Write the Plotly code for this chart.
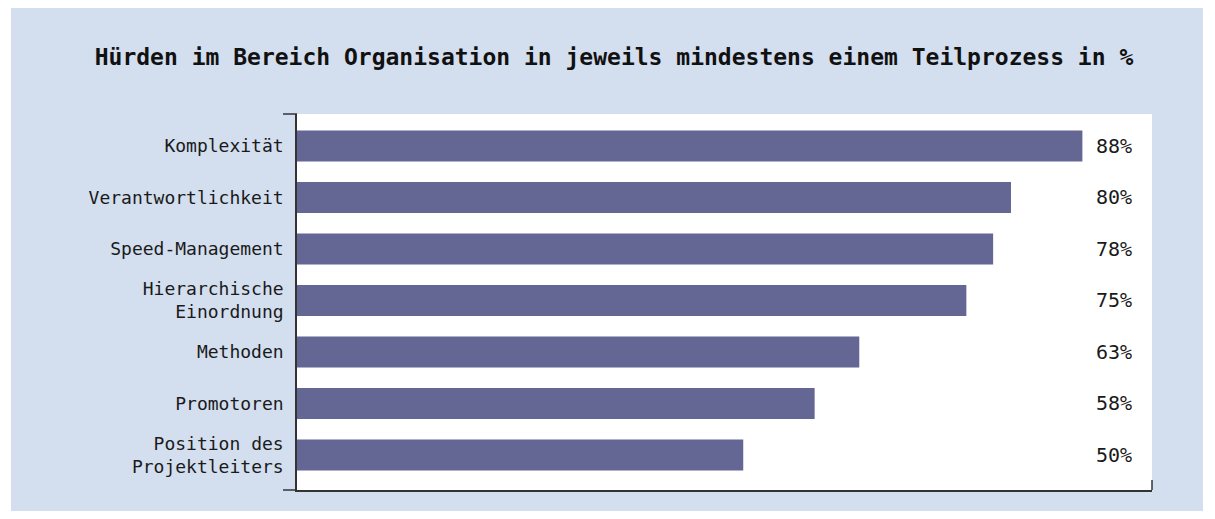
import plotly.graph_objects as go

categories = ["Komplexität", "Verantwortlichkeit", "Speed-Management",
              "Hierarchische<br>Einordnung", "Methoden", "Promotoren",
              "Position des<br>Projektleiters"]
values = [88, 80, 78, 75, 63, 58, 50]
value_labels = [f"{v}%" for v in values]

W, H = 1215, 519
L, R, T, B = 297, 1152, 114, 490
pw, ph = R - L, B - T

def px_x(x):
    return (x - L) / pw

def px_y(y):
    return (B - y) / ph

font_family = "DejaVu Sans Mono"
panel = "#d3deef"
bar_color = "#646694"
axis_color = "#333333"

fig = go.Figure(go.Bar(
    x=values, y=categories, orientation="h",
    marker=dict(color=bar_color, line=dict(width=0)),
    hoverinfo="skip",
))

shapes = [
    dict(type="rect", xref="paper", yref="paper", layer="below",
         x0=px_x(11), x1=px_x(1203), y0=px_y(511), y1=px_y(8),
         fillcolor=panel, line=dict(width=0)),
    dict(type="rect", xref="paper", yref="paper", layer="below",
         x0=0, x1=1, y0=0, y1=1, fillcolor="white", line=dict(width=0)),
    # top-left end tick
    dict(type="line", xref="paper", yref="paper",
         x0=px_x(283), x1=0, y0=1, y1=1,
         line=dict(color=axis_color, width=1.5)),
    # bottom-left extension
    dict(type="line", xref="paper", yref="paper",
         x0=px_x(283), x1=0, y0=0, y1=0,
         line=dict(color=axis_color, width=1.5)),
    # bottom-right end tick
    dict(type="line", xref="paper", yref="paper",
         x0=1, x1=1, y0=0, y1=px_y(480),
         line=dict(color=axis_color, width=1.5)),
]

annotations = [
    dict(x=93.8, y=c, xref="x", yref="y", text=t, showarrow=False,
         xanchor="right", yanchor="middle",
         font=dict(family=font_family, size=20, color="#1a1a1a"))
    for c, t in zip(categories, value_labels)
]

fig.update_layout(
    width=W, height=H,
    margin=dict(l=L, r=W - R, t=T, b=H - B, pad=0),
    paper_bgcolor="white",
    plot_bgcolor="rgba(0,0,0,0)",
    bargap=0.4,
    showlegend=False,
    title=dict(
        text="<b>Hürden im Bereich Organisation in jeweils mindestens einem Teilprozess in %</b>",
        x=614 / W, xref="container", xanchor="center",
        y=1 - 57 / H, yref="container", yanchor="middle",
        font=dict(family=font_family, size=23, color="#111111"),
    ),
    xaxis=dict(range=[0, 95.8], showgrid=False, zeroline=False,
               showticklabels=False, ticks="", showline=True,
               linecolor=axis_color, linewidth=1.5, fixedrange=True),
    yaxis=dict(range=[6.68, -0.62], showgrid=False, zeroline=False,
               ticks="", showline=True, linecolor=axis_color, linewidth=1.5,
               ticklabelstandoff=8,
               tickfont=dict(family=font_family, size=18, color="#1a1a1a"),
               fixedrange=True),
    shapes=shapes,
    annotations=annotations,
)

fig.write_html("out.html", config={"displayModeBar": False})
